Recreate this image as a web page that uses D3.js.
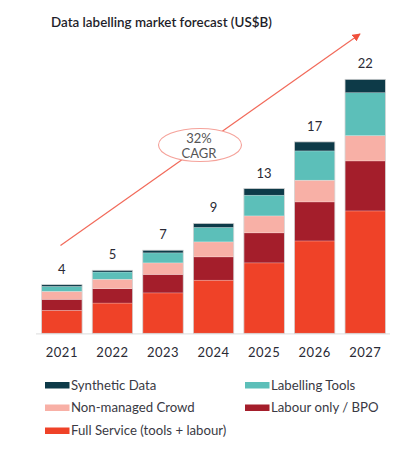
<!DOCTYPE html>
<html>
<head>
<meta charset="utf-8">
<script src="https://cdn.jsdelivr.net/npm/d3@7"></script>
<style>
  html, body { margin: 0; padding: 0; background: #fff; }
  svg { display: block; }
  text { font-family: Lato, "Open Sans", sans-serif; }
</style>
</head>
<body>
<svg id="chart" width="404" height="455"></svg>
<script>
const years = ["2021", "2022", "2023", "2024", "2025", "2026", "2027"];
const totalLabels = ["4", "5", "7", "9", "13", "17", "22"];
const seriesNames = ["Full Service (tools + labour)", "Labour only / BPO", "Non-managed Crowd", "Labelling Tools", "Synthetic Data"];
const fullService = [1.99, 2.62, 3.50, 4.60, 6.10, 8.00, 10.60];
const labourOnly  = [0.95, 1.25, 1.60, 2.02, 2.60, 3.38, 4.33];
const crowd       = [0.69, 0.81, 1.00, 1.30, 1.47, 1.88, 2.19];
const tools       = [0.43, 0.63, 0.87, 1.25, 1.79, 2.54, 3.72];
const synthetic   = [0.15, 0.15, 0.23, 0.35, 0.58, 0.78, 1.16];
const colors = ["#ef4228", "#a41e2b", "#f8b0a6", "#5cbfb9", "#0d3a48"];
const cagrText = ["32%", "CAGR"];
const title = "Data labelling market forecast (US$B)";

const svg = d3.select("#chart");
const seriesVals = [fullService, labourOnly, crowd, tools, synthetic];
const rows = years.map((y, i) => {
  const r = { year: y };
  seriesNames.forEach((s, j) => r[s] = seriesVals[j][i]);
  return r;
});
const stacked = d3.stack().keys(seriesNames)(rows);

const x = d3.scaleBand().domain(years).range([36.6, 390.5]).paddingInner(0.2).paddingOuter(0.1);
const y = d3.scaleLinear().domain([0, 22]).range([333.3, 79.3]);

// title
svg.append("text").attr("x", 51).attr("y", 27)
  .attr("font-size", 13.4).attr("font-weight", 600).attr("fill", "#1e1e2a")
  .text(title);

// baseline
svg.append("line").attr("x1", 36).attr("x2", 390)
  .attr("y1", y(0) + 0.5).attr("y2", y(0) + 0.5)
  .attr("stroke", "#e3e3e3").attr("stroke-width", 1.2);

// bars
const g = svg.append("g");
stacked.forEach((layer, j) => {
  g.selectAll(null).data(layer).enter().append("rect")
    .attr("x", d => x(d.data.year))
    .attr("width", x.bandwidth())
    .attr("y", d => y(d[1]))
    .attr("height", d => y(d[0]) - y(d[1]))
    .attr("fill", colors[j])
    .attr("stroke", "rgba(255,255,255,0.35)")
    .attr("stroke-width", 0.6);
});
// light outline of each bar
const totals = years.map((yy, i) => seriesVals.reduce((a, s) => a + s[i], 0));
g.selectAll(null).data(years).enter().append("rect")
  .attr("x", d => x(d))
  .attr("width", x.bandwidth())
  .attr("y", (d, i) => y(totals[i]))
  .attr("height", (d, i) => y(0) - y(totals[i]))
  .attr("fill", "none").attr("stroke", "#cfcfcf").attr("stroke-width", 0.7);

// total labels
svg.selectAll(null).data(years).enter().append("text")
  .attr("x", d => x(d) + x.bandwidth() / 2)
  .attr("y", (d, i) => y(totals[i]) - 11)
  .attr("text-anchor", "middle").attr("font-size", 13).attr("fill", "#2a2a35")
  .text((d, i) => totalLabels[i]);

// x axis labels
svg.selectAll(null).data(years).enter().append("text")
  .attr("x", d => x(d) + x.bandwidth() / 2)
  .attr("y", 357)
  .attr("text-anchor", "middle").attr("font-size", 13).attr("fill", "#2a2a35")
  .attr("letter-spacing", 0.5)
  .text(d => d);

// arrow
const defs = svg.append("defs");
defs.append("marker").attr("id", "ah").attr("viewBox", "0 0 10 10")
  .attr("refX", 9).attr("refY", 5).attr("markerWidth", 8).attr("markerHeight", 8)
  .attr("markerUnits", "userSpaceOnUse").attr("orient", "auto")
  .append("path").attr("d", "M0,0 L10,5 L0,10 Z").attr("fill", "#f0503c");
svg.append("line").attr("x1", 60.5).attr("y1", 245.5).attr("x2", 360).attr("y2", 34)
  .attr("stroke", "#f26a5a").attr("stroke-width", 1.2).attr("marker-end", "url(#ah)");

// CAGR ellipse
svg.append("ellipse").attr("cx", 200).attr("cy", 145).attr("rx", 41.5).attr("ry", 16.5)
  .attr("fill", "#fff").attr("stroke", "#f5a29a").attr("stroke-width", 1.1);
svg.append("text").attr("x", 199).attr("y", 142.5).attr("text-anchor", "middle")
  .attr("font-size", 13).attr("fill", "#555").text(cagrText[0]);
svg.append("text").attr("x", 199).attr("y", 158).attr("text-anchor", "middle")
  .attr("font-size", 13).attr("fill", "#555").text(cagrText[1]);

// legend
const legendOrder = [4, 3, 2, 1, 0];
const legendPos = [[45, 385], [245, 385], [45, 407.5], [245, 407.5], [45, 430.5]];
legendOrder.forEach((si, k) => {
  const [lx, ly] = legendPos[k];
  svg.append("rect").attr("x", lx).attr("y", ly - 3).attr("width", 24.5).attr("height", 6.5)
    .attr("fill", colors[si]);
  svg.append("text").attr("x", lx + 26).attr("y", ly + 4.5)
    .attr("font-size", 13.2).attr("fill", "#3a3a44").text(seriesNames[si]);
});
</script>
</body>
</html>
